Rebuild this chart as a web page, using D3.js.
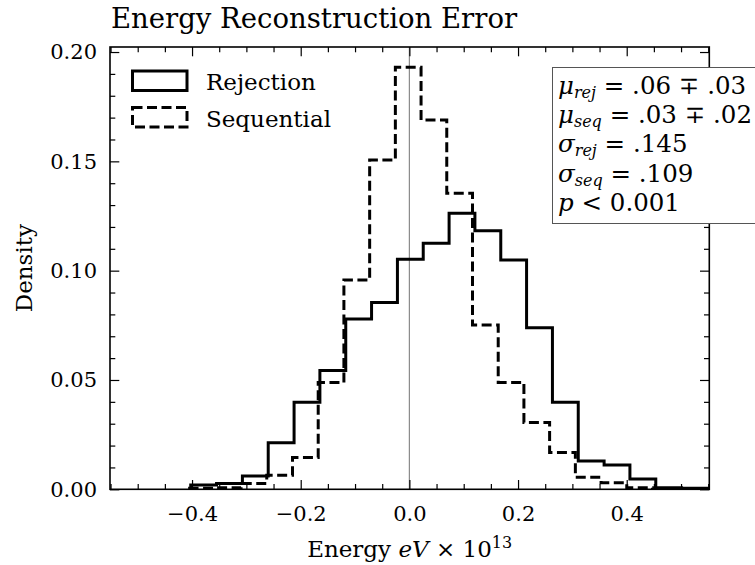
<!DOCTYPE html>
<html>
  <head>
    <meta charset="utf-8">
    <title>Energy Reconstruction Error</title>
    <script src="https://cdn.jsdelivr.net/npm/d3@7"></script>
    <style>
      body { margin: 0; background: #fff; }
      svg { font-family: "DejaVu Serif", serif; }
      .tick text { font-family: "DejaVu Serif", serif; fill: #000; }
    </style>
  </head>

  <body>
    <svg id="chart" width="755" height="565"></svg>

    <script>
      // histogram data (bin edges and density per bin)
      rejEdges = [-0.4024, -0.3549, -0.3073, -0.2598, -0.2122, -0.1647, -0.1171, -0.0696, -0.0220, 0.0255,
        0.0731, 0.1206, 0.1682, 0.2157, 0.2633, 0.3108, 0.3584, 0.4059, 0.4535, 0.5010, 0.5486];
      rejDensity = [0.0020, 0.0026, 0.0061, 0.0213, 0.0398, 0.0543, 0.0779, 0.0854, 0.1052, 0.1125,
        0.1263, 0.1182, 0.1049, 0.0739, 0.0398, 0.0129, 0.0111, 0.0047, 0.0007, 0.0005];
      seqEdges = [-0.4044, -0.3571, -0.3098, -0.2625, -0.2151, -0.1678, -0.1205, -0.0731, -0.0258, 0.0215,
        0.0688, 0.1162, 0.1635, 0.2108, 0.2581, 0.3055, 0.3528, 0.4001, 0.4474];
      seqDensity = [0.0005, 0.0007, 0.0027, 0.0064, 0.0145, 0.0488, 0.0957, 0.1506, 0.1930, 0.1689,
        0.1354, 0.0752, 0.0489, 0.0305, 0.0168, 0.0055, 0.0030, 0.0007];

      // axes and ticks
      xDomain = [-0.551, 0.552];
      yDomain = [0, 0.2023];
      xMajor = [-0.4, -0.2, 0.0, 0.2, 0.4];
      yMajor = [0.00, 0.05, 0.10, 0.15, 0.20];

      // legend and stats
      seriesNames = ["Rejection", "Sequential"];
      stats = [
        {sym: "μ", sub: "rej", rest: " = .06 ∓ .03"},
        {sym: "μ", sub: "seq", rest: " = .03 ∓ .02"},
        {sym: "σ", sub: "rej", rest: " = .145"},
        {sym: "σ", sub: "seq", rest: " = .109"},
        {sym: "p", sub: "", rest: " < 0.001"}
      ];

      // layout
      plotL = 110, plotR = 709.3, plotT = 47, plotB = 489.3;

      svg = d3.select("#chart");

      x = d3.scaleLinear().domain(xDomain).range([plotL, plotR]);
      y = d3.scaleLinear().domain(yDomain).range([plotB, plotT]);

      svg.append("defs").append("clipPath")
        .attr("id", "clip")
        .append("rect")
          .attr("x", plotL)
          .attr("y", plotT)
          .attr("width", plotR - plotL)
          .attr("height", plotB - plotT);

      plot = svg.append("g").attr("clip-path", "url(#clip)");

      // zero line
      plot.append("line")
        .attr("x1", x(0)).attr("x2", x(0))
        .attr("y1", plotT).attr("y2", plotB)
        .attr("stroke", "#8a8a8a")
        .attr("stroke-width", 1.2);

      function stepPoints(edges, vals) {
        let pts = [[edges[0], 0]];
        vals.forEach(function(v, i) {
          pts.push([edges[i], v]);
          pts.push([edges[i + 1], v]);
        });
        pts.push([edges[edges.length - 1], 0]);
        return pts;
      }

      line = d3.line()
        .x(function(d) { return x(d[0]); })
        .y(function(d) { return y(d[1]); });

      plot.append("path")
        .datum(stepPoints(seqEdges, seqDensity))
        .attr("d", line)
        .attr("fill", "none")
        .attr("stroke", "#000")
        .attr("stroke-width", 3)
        .attr("stroke-dasharray", "10,4.5");

      plot.append("path")
        .datum(stepPoints(rejEdges, rejDensity))
        .attr("d", line)
        .attr("fill", "none")
        .attr("stroke", "#000")
        .attr("stroke-width", 3);

      // ticks (inward on all four sides)
      xMinor = x.ticks(20).filter(function(t) { return !xMajor.some(function(m) { return Math.abs(m - t) < 1e-9; }); });
      yMinor = y.ticks(20).filter(function(t) { return !yMajor.some(function(m) { return Math.abs(m - t) < 1e-9; }); });

      function addAxis(axis, tx, ty) {
        let g = svg.append("g")
          .attr("transform", "translate(" + tx + "," + ty + ")")
          .call(axis);
        g.select(".domain").remove();
        g.selectAll(".tick line").attr("stroke", "#000").attr("stroke-width", 1.2);
        return g;
      }

      addAxis(d3.axisBottom(x).tickValues(xMajor).tickSize(-9.3).tickPadding(17)
        .tickFormat(d3.format(".1f")), 0, plotB);
      addAxis(d3.axisBottom(x).tickValues(xMinor).tickSize(-5.3).tickFormat(""), 0, plotB);
      addAxis(d3.axisTop(x).tickValues(xMajor).tickSize(-9.3).tickFormat(""), 0, plotT);
      addAxis(d3.axisTop(x).tickValues(xMinor).tickSize(-5.3).tickFormat(""), 0, plotT);

      addAxis(d3.axisLeft(y).tickValues(yMajor).tickSize(-9.3).tickPadding(13)
        .tickFormat(d3.format(".2f")), plotL, 0);
      addAxis(d3.axisLeft(y).tickValues(yMinor).tickSize(-5.3).tickFormat(""), plotL, 0);
      addAxis(d3.axisRight(y).tickValues(yMajor).tickSize(-9.3).tickFormat(""), plotR, 0);
      addAxis(d3.axisRight(y).tickValues(yMinor).tickSize(-5.3).tickFormat(""), plotR, 0);

      svg.selectAll(".tick text").style("font-size", "21px");

      // frame
      svg.append("rect")
        .attr("x", plotL).attr("y", plotT)
        .attr("width", plotR - plotL).attr("height", plotB - plotT)
        .attr("fill", "none")
        .attr("stroke", "#000")
        .attr("stroke-width", 1.6);

      // title
      svg.append("text")
        .attr("x", 111)
        .attr("y", 28)
        .style("font-size", "27.5px")
        .text("Energy Reconstruction Error");

      // axis labels
      xLabel = svg.append("text")
        .attr("x", (plotL + plotR) / 2)
        .attr("y", 557)
        .attr("text-anchor", "middle")
        .style("font-size", "23px");
      xLabel.append("tspan").text("Energy ");
      xLabel.append("tspan").style("font-style", "italic").text("eV");
      xLabel.append("tspan").text(" × 10");
      xLabel.append("tspan").attr("dy", -9).style("font-size", "16px").text("13");

      svg.append("text")
        .attr("transform", "translate(32," + (plotT + plotB) / 2 + ") rotate(-90)")
        .attr("text-anchor", "middle")
        .style("font-size", "23px")
        .text("Density");

      // legend
      legend = svg.append("g");
      seriesNames.forEach(function(name, i) {
        legend.append("rect")
          .attr("x", 132.5)
          .attr("y", 71 + i * 36.5)
          .attr("width", 54.5)
          .attr("height", 19.5)
          .attr("fill", "none")
          .attr("stroke", "#000")
          .attr("stroke-width", 3)
          .attr("stroke-dasharray", i == 1 ? "10,4.5" : null);
        legend.append("text")
          .attr("x", 206)
          .attr("y", 90 + i * 36.5)
          .style("font-size", "23px")
          .text(name);
      });

      // stats box
      svg.append("rect")
        .attr("x", 552.5)
        .attr("y", 67.5)
        .attr("width", 260)
        .attr("height", 156)
        .attr("fill", "#fff")
        .attr("stroke", "#555")
        .attr("stroke-width", 1);

      stats.forEach(function(s, i) {
        let t = svg.append("text")
          .attr("x", 558)
          .attr("y", 93.5 + i * 29.4)
          .style("font-size", "24.5px");
        t.append("tspan").style("font-style", "italic").text(s.sym);
        if (s.sub) {
          t.append("tspan")
            .attr("dy", 4)
            .style("font-style", "italic")
            .style("font-size", "16px")
            .text(s.sub);
          t.append("tspan").attr("dy", -4).text(s.rest);
        } else {
          t.append("tspan").text(s.rest);
        }
      });
    </script>
  </body>
</html>
